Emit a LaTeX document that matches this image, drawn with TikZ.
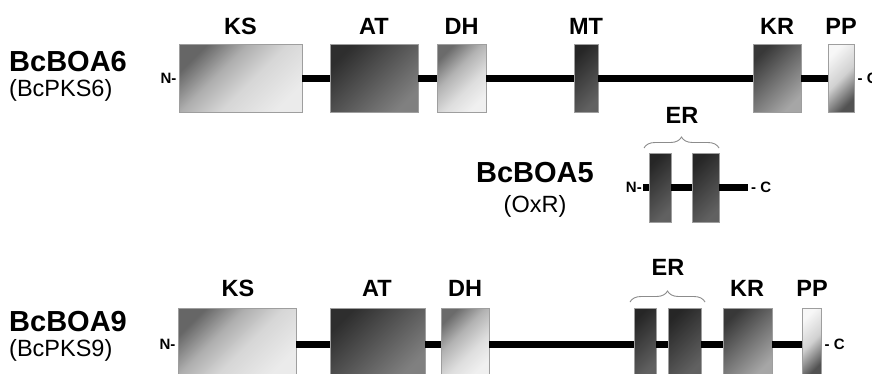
\documentclass[tikz,border=0pt]{standalone}
\usepackage{fontspec}
\setmainfont{Liberation Sans}
\usetikzlibrary{decorations.pathreplacing}
\pgfdeclarehorizontalshading{shKS}{100bp}{color(0bp)=(black!60); color(25bp)=(black!60); color(40bp)=(black!32); color(55bp)=(black!16); color(75bp)=(black!8); color(100bp)=(black!8)}
\pgfdeclarehorizontalshading{shAT}{100bp}{color(0bp)=(black!82); color(25bp)=(black!82); color(50bp)=(black!66); color(75bp)=(black!50); color(100bp)=(black!50)}
\pgfdeclarehorizontalshading{shDH}{100bp}{color(0bp)=(black!58); color(25bp)=(black!58); color(42bp)=(black!30); color(60bp)=(black!13); color(75bp)=(black!6); color(100bp)=(black!6)}
\pgfdeclarehorizontalshading{shMT}{100bp}{color(0bp)=(black!85); color(25bp)=(black!85); color(75bp)=(black!62); color(100bp)=(black!62)}
\pgfdeclarehorizontalshading{shKR}{100bp}{color(0bp)=(black!78); color(25bp)=(black!78); color(50bp)=(black!56); color(75bp)=(black!35); color(100bp)=(black!35)}
\pgfdeclarehorizontalshading{shPP}{100bp}{color(0bp)=(black!3); color(25bp)=(black!3); color(50bp)=(black!18); color(75bp)=(black!68); color(100bp)=(black!68)}
\tikzset{
  dom/.style={draw=black!38, line width=0.9pt, inner sep=0pt, rectangle},
  sh/.style={shading=#1, shading angle=-45},
  lab/.style={font=\bfseries\fontsize{23.5}{25}\selectfont, inner sep=0pt},
  gname/.style={font=\bfseries\fontsize{29}{31}\selectfont, inner sep=0pt, anchor=west},
  pname/.style={font=\fontsize{23.5}{25}\selectfont, inner sep=0pt, anchor=west},
  term/.style={font=\bfseries\fontsize{15}{16}\selectfont, inner sep=0pt},
  bb/.style={line width=7pt, black, line cap=butt},
  brc/.style={draw=black!45, line width=0.9pt, decorate, decoration={brace, amplitude=11pt}},
  ksc/.style={sh=shKS},
  atc/.style={sh=shAT},
  dhc/.style={sh=shDH},
  mtc/.style={sh=shMT},
  krc/.style={sh=shKR},
  ppc/.style={sh=shPP},
  erc/.style={sh=shMT},
}
\begin{document}
\begin{tikzpicture}[x=1pt, y=-1pt]
\useasboundingbox (0,0) rectangle (872,373);
\clip (0,0) rectangle (872,373);
\fill[white] (0,0) rectangle (872,373);

% ---------- Row 1: BcBOA6 ----------
\node[gname] (g6) at (9,62) {BcBOA6};
\node[pname] (p6) at (9,90) {(BcPKS6)};

\node[dom, minimum width=123pt, minimum height=68pt, ksc] (ks1) at (240.5,78) {};
\node[dom, minimum width=88pt, minimum height=68pt, atc] (at1) at (374,78) {};
\node[dom, minimum width=49pt, minimum height=68pt, dhc] (dh1) at (461.5,78) {};
\node[dom, minimum width=24pt, minimum height=68pt, mtc] (mt1) at (586,78) {};
\node[dom, minimum width=48pt, minimum height=68pt, krc] (kr1) at (777,78) {};
\node[dom, minimum width=26pt, minimum height=68pt, ppc] (pp1) at (841,78) {};

\draw[bb] (ks1.east) -- (at1.west);
\draw[bb] (at1.east) -- (dh1.west);
\draw[bb] (dh1.east) -- (mt1.west);
\draw[bb] (mt1.east) -- (kr1.west);
\draw[bb] (kr1.east) -- (pp1.west);

\node[term, anchor=east] (n1) at ([xshift=-2pt]ks1.west) {N-};
\node[term, anchor=west] (c1) at ([xshift=3pt]pp1.east) {- C};

\node[lab] (ks1l) at (240.5,26) {KS};
\node[lab] (at1l) at (374,26) {AT};
\node[lab] (dh1l) at (461.5,26) {DH};
\node[lab] (mt1l) at (586,26) {MT};
\node[lab] (kr1l) at (777,26) {KR};
\node[lab] (pp1l) at (841,26) {PP};

% ---------- Row 2: BcBOA5 ----------
\node[gname, anchor=center] (g5) at (535,173) {BcBOA5};
\node[pname, anchor=center] (p5) at (535,206) {(OxR)};

\node[dom, minimum width=22pt, minimum height=69pt, erc] (er21) at (660,187.5) {};
\node[dom, minimum width=27pt, minimum height=69pt, erc] (er22) at (705.5,187.5) {};
\coordinate (s2) at (643,187.5);
\coordinate (e2) at (748,187.5);
\draw[bb] (s2) -- (er21.west);
\draw[bb] (er21.east) -- (er22.west);
\draw[bb] (er22.east) -- (e2);
\node[term, anchor=east] (n2) at ([xshift=-1pt]s2) {N-};
\node[term, anchor=west] (c2) at ([xshift=3pt]e2) {- C};

\coordinate (b2a) at (644,148);
\coordinate (b2b) at (719,148);
\draw[brc] (b2a) -- (b2b);
\node[lab] (er2l) at (682,115) {ER};

% ---------- Row 3: BcBOA9 ----------
\node[gname] (g9) at (9,322) {BcBOA9};
\node[pname] (p9) at (9,350) {(BcPKS9)};

\node[dom, minimum width=118pt, minimum height=68pt, ksc] (ks3) at (237,342) {};
\node[dom, minimum width=95pt, minimum height=68pt, atc] (at3) at (377.5,342) {};
\node[dom, minimum width=48pt, minimum height=68pt, dhc] (dh3) at (465,342) {};
\node[dom, minimum width=22pt, minimum height=68pt, erc] (er31) at (645,342) {};
\node[dom, minimum width=33pt, minimum height=68pt, erc] (er32) at (684.5,342) {};
\node[dom, minimum width=49pt, minimum height=68pt, krc] (kr3) at (747.5,342) {};
\node[dom, minimum width=19pt, minimum height=68pt, ppc] (pp3) at (811.5,342) {};

\draw[bb] ([yshift=-2pt]ks3.east) -- ([yshift=-2pt]at3.west);
\draw[bb] ([yshift=-2pt]at3.east) -- ([yshift=-2pt]dh3.west);
\draw[bb] ([yshift=-2pt]dh3.east) -- ([yshift=-2pt]er31.west);
\draw[bb] ([yshift=-2pt]er31.east) -- ([yshift=-2pt]er32.west);
\draw[bb] ([yshift=-2pt]er32.east) -- ([yshift=-2pt]kr3.west);
\draw[bb] ([yshift=-2pt]kr3.east) -- ([yshift=-2pt]pp3.west);

\node[term, anchor=east] (n3) at ([xshift=-2pt,yshift=-2pt]ks3.west) {N-};
\node[term, anchor=west] (c3) at ([xshift=3pt,yshift=-2pt]pp3.east) {- C};

\node[lab] (ks3l) at (238,288) {KS};
\node[lab] (at3l) at (377,288) {AT};
\node[lab] (dh3l) at (465,288) {DH};
\node[lab] (kr3l) at (747,288) {KR};
\node[lab] (pp3l) at (812,288) {PP};

\coordinate (b3a) at (630,302);
\coordinate (b3b) at (705,302);
\draw[brc] (b3a) -- (b3b);
\node[lab] (er3l) at (668,267) {ER};
\end{tikzpicture}
\end{document}
